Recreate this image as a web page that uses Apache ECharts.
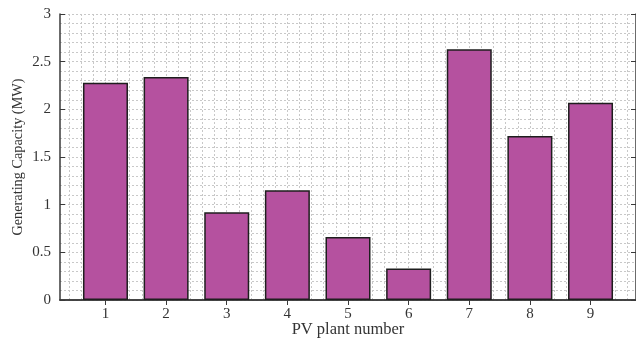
<!DOCTYPE html>
<html>
<head>
<meta charset="utf-8">
<script src="https://cdn.jsdelivr.net/npm/echarts@6/dist/echarts.min.js"></script>
<style>html,body{margin:0;padding:0;background:#fff;}#c{width:636px;height:341px;}</style>
</head>
<body>
<div id="c"></div>
<script>
var plants = [1, 2, 3, 4, 5, 6, 7, 8, 9];
var capacity = [2.28, 2.34, 0.92, 1.15, 0.66, 0.33, 2.63, 1.72, 2.07];
var xTickLabels = [1, 2, 3, 4, 5, 6, 7, 8, 9];
var yTickLabels = ['0', '0.5', '1', '1.5', '2', '2.5', '3'];

var xMin = 0.25, xMax = 9.75;
var gridVals = [];
for (var k = 2; k * 0.2 < xMax; k++) gridVals.push(Math.round(k * 0.2 * 100) / 100);

var font = 'Liberation Serif';
var axisColor = '#3a3a3a';
var gridLine = { show: true, lineStyle: { color: '#c8c8c8', type: [2, 2], width: 1 } };

var chart = echarts.init(document.getElementById('c'));
chart.setOption({
  animation: false,
  backgroundColor: '#fff',
  grid: { left: 60, top: 14, right: 0, bottom: 41, containLabel: false, outerBoundsMode: 'none' },
  xAxis: [
    {
      type: 'value', min: xMin, max: xMax, position: 'bottom',
      name: 'PV plant number', nameLocation: 'middle', nameGap: 21, nameMoveOverlap: false,
      nameTextStyle: { fontFamily: font, fontSize: 16.5, color: '#333' },
      axisLine: { show: true, lineStyle: { color: axisColor, width: 1.5 } },
      axisTick: { show: true, inside: true, length: 5, customValues: plants, lineStyle: { color: axisColor } },
      axisLabel: { show: true, customValues: plants, margin: 7, fontFamily: font, fontSize: 15, color: '#333',
        formatter: function (v) { return String(xTickLabels[Math.round(v) - 1]); } },
      splitLine: { show: false }
    },
    {
      type: 'value', min: xMin, max: xMax, position: 'top',
      axisLine: { show: true, lineStyle: { color: axisColor, width: 1.5 } },
      axisTick: { show: true, inside: true, length: 5, customValues: plants, lineStyle: { color: axisColor } },
      axisLabel: { show: false },
      splitLine: { show: false }
    },
    {
      type: 'value', min: xMin, max: xMax, position: 'bottom', offset: 0,
      axisLine: { show: false },
      axisTick: { show: false, customValues: gridVals },
      axisLabel: { show: false },
      splitLine: gridLine
    }
  ],
  yAxis: [
    {
      type: 'value', min: 0, max: 3, interval: 0.5, position: 'left',
      name: 'Generating Capacity (MW)', nameLocation: 'middle', nameGap: 35, nameRotate: 90, nameMoveOverlap: false,
      nameTextStyle: { fontFamily: font, fontSize: 14.3, color: '#333' },
      axisLine: { show: true, lineStyle: { color: axisColor, width: 1.5 } },
      axisTick: { show: true, inside: true, length: 5, lineStyle: { color: axisColor } },
      axisLabel: { show: true, margin: 9, fontFamily: font, fontSize: 15, color: '#333',
        formatter: function (v) { return yTickLabels[Math.round(v * 2)]; } },
      splitLine: gridLine,
      minorTick: { show: false, splitNumber: 5 },
      minorSplitLine: gridLine
    },
    {
      type: 'value', min: 0, max: 3, interval: 0.5, position: 'right',
      axisLine: { show: true, lineStyle: { color: axisColor, width: 1.5 } },
      axisTick: { show: true, inside: true, length: 5, lineStyle: { color: axisColor } },
      axisLabel: { show: false },
      splitLine: { show: false }
    }
  ],
  series: [{
    type: 'bar',
    xAxisIndex: 0, yAxisIndex: 0,
    barWidth: 45,
    data: plants.map(function (p, i) { return [p, capacity[i]]; }),
    itemStyle: { color: '#b5519f', borderColor: '#1e1e1e', borderWidth: 1.5 }
  }]
});
</script>
</body>
</html>
